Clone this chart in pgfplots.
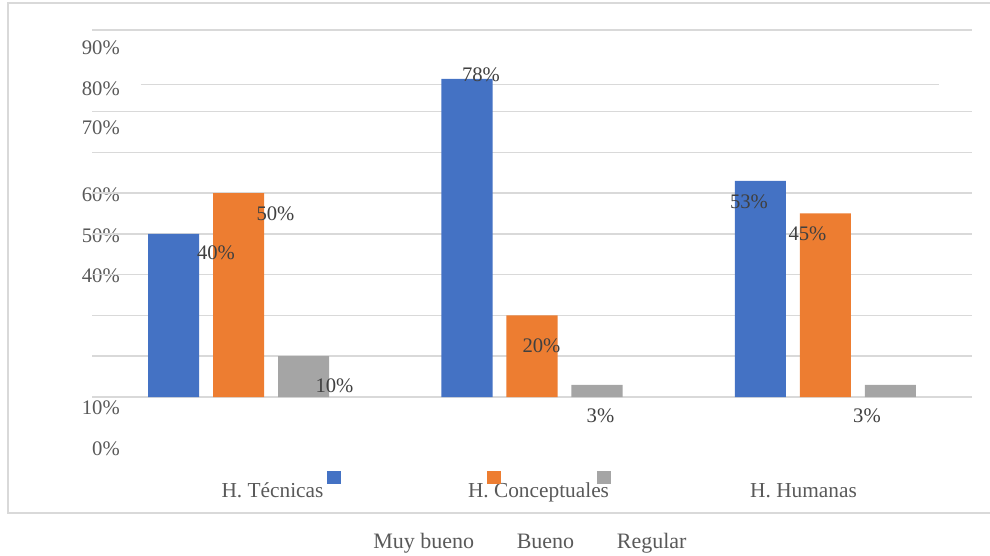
\documentclass[border=0pt]{standalone}
\usepackage{pgfplots}
\pgfplotsset{compat=1.18}
\usepackage{fontspec}
\setmainfont{Liberation Serif}
\definecolor{c1}{HTML}{4472C4}
\definecolor{c2}{HTML}{ED7D31}
\definecolor{c3}{HTML}{A5A5A5}
\definecolor{gridc}{HTML}{D9D9D9}
\definecolor{tickc}{HTML}{595959}
\definecolor{labc}{HTML}{404040}
\begin{document}
\begin{tikzpicture}
\useasboundingbox (0pt,0pt) rectangle (742.5pt,417pt);
% chart frame
\draw[gridc, line width=1.1pt] (750pt,414.75pt) -- (6pt,414.75pt) -- (6pt,32.25pt) -- (750pt,32.25pt);
\begin{axis}[
  at={(69pt,48.9pt)}, anchor=south west,
  scale only axis, width=660pt, height=345.6pt,
  xmin=-0.5, xmax=2.5, ymin=-23, ymax=90,
  clip=false,
  axis line style={draw=none},
  major tick length=0pt,
  xtick={0.1153,1.0222,1.9256},
  xticklabels={H. Técnicas, H. Conceptuales, H. Humanas},
  xticklabel style={anchor=base, yshift=-5.4pt, font=\fontsize{16}{19}\selectfont, text=tickc},
  ytick={-12.75,-2.70,29.67,39.48,49.54,65.97,75.53,85.59},
  yticklabels={0\%,10\%,40\%,50\%,60\%,70\%,80\%,90\%},
  yticklabel style={anchor=east, inner sep=0pt, xshift=21pt, font=\fontsize{15.5}{18}\selectfont, text=tickc},
  extra y ticks={0,10,20,30,40,50,60,70,90},
  extra y tick labels={},
  extra y tick style={grid=major},
  grid style={gridc, line width=1.1pt},
  legend columns=3,
  legend style={at={(0.3193,-0.1194)}, anchor=west, draw=none, fill=none,
    inner sep=0pt, nodes={inner sep=0pt, text height=0.68em, text depth=0.22em},
    font=\fontsize{16.5}{19}\selectfont, text=tickc,
    /tikz/every even column/.append style={column sep=32pt}},
]
\draw[gridc, line width=0.6pt] (axis cs:-0.333,76.76) -- (axis cs:2.3875,76.76);
\addplot[ybar, bar width=0.174, bar shift=-0.2216, fill=c1, draw=none, legend image code/.code={}]
  coordinates {(0,40) (1,78) (2,53)};
\addlegendentry{Muy bueno}
\addplot[ybar, bar width=0.174, bar shift=0, fill=c2, draw=none, legend image code/.code={}]
  coordinates {(0,50) (1,20) (2,45)};
\addlegendentry{Bueno}
\addplot[ybar, bar width=0.174, bar shift=0.2216, fill=c3, draw=none, legend image code/.code={}]
  coordinates {(0,10) (1,3) (2,3)};
\addlegendentry{Regular}
% data labels (placed as in the reference)
\begin{scope}[every node/.style={font=\fontsize{15.5}{18}\selectfont, text=labc, inner sep=0pt}]
\node at (axis cs:-0.0773,35.44) {40\%};
\node at (axis cs:0.1256,45.0) {50\%};
\node at (axis cs:0.3267,2.82) {10\%};
\node at (axis cs:0.8262,79.09) {78\%};
\node at (axis cs:1.0324,12.63) {20\%};
\node at (axis cs:1.2335,-4.54) {3\%};
\node at (axis cs:1.7398,47.94) {53\%};
\node at (axis cs:1.9392,40.10) {45\%};
\node at (axis cs:2.1421,-4.66) {3\%};
\end{scope}
\end{axis}
% legend keys (detached, as in the reference)
\begin{scope}[x=0.75pt,y=0.75pt]
\fill[c1] (327,72) rectangle (341,85);
\fill[c2] (487,72) rectangle (501,85);
\fill[c3] (597,72) rectangle (611,85);
\end{scope}
\end{tikzpicture}
\end{document}
